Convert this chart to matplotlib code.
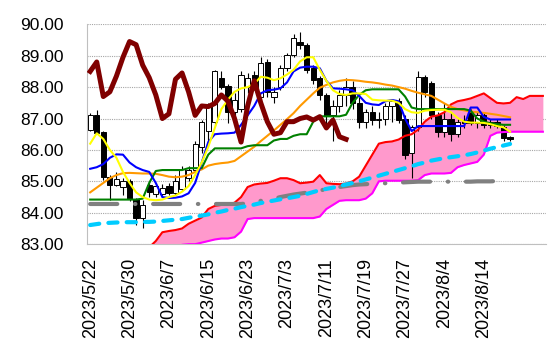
import matplotlib
matplotlib.use("Agg")
import matplotlib.pyplot as plt
import numpy as np

plt.rcParams["font.family"] = ["Liberation Sans", "DejaVu Sans"]

# category axis: 70 weekdays from 2023/5/22, labelled every 6th
n_cat = 70
tick_pos = list(range(0, 61, 6))
tick_labels = ["2023/5/22", "2023/5/30", "2023/6/7", "2023/6/15", "2023/6/23",
               "2023/7/3", "2023/7/11", "2023/7/19", "2023/7/27", "2023/8/4", "2023/8/14"]

# daily candles (index 0..64)
opens = [86.65, 87.11, 86.58, 85.13, 84.88, 84.83, 85.02, 84.43, 83.82, 84.88,
         84.60, 84.60, 84.85, 84.62, 84.75, 85.10, 85.35, 86.10, 86.60, 86.90,
         88.30, 88.04, 87.22, 87.30, 88.00, 88.39, 87.69, 88.81, 87.69, 88.00,
         88.60, 89.02, 89.45, 89.34, 88.60, 88.28, 87.75, 87.11, 87.40, 87.75,
         88.00, 87.50, 86.90, 87.20, 86.95, 87.00, 87.40, 87.55, 87.00, 85.90,
         86.74, 88.33, 88.12, 87.11, 86.58, 87.00, 86.50, 86.95, 87.20, 86.85,
         87.10, 86.80, 86.90, 86.74, 86.40]
highs = [87.17, 87.27, 86.60, 85.20, 85.30, 85.10, 85.07, 84.47, 84.40, 85.00,
         84.95, 84.90, 84.95, 85.20, 85.50, 85.50, 86.30, 86.95, 87.50, 88.55,
         88.50, 88.10, 87.80, 88.50, 88.45, 88.50, 88.97, 88.90, 88.00, 88.70,
         89.10, 89.70, 89.75, 89.40, 88.70, 88.35, 87.80, 87.60, 87.90, 88.30,
         88.20, 87.70, 87.30, 87.40, 87.20, 87.50, 87.60, 87.65, 87.10, 86.80,
         88.50, 88.40, 88.20, 87.20, 87.50, 87.20, 87.00, 87.10, 87.30, 87.20,
         87.20, 87.00, 87.00, 86.80, 86.45]
lows = [86.60, 86.50, 85.04, 84.40, 84.85, 84.56, 84.37, 83.60, 83.51, 84.50,
        84.50, 84.50, 84.55, 84.55, 84.70, 85.00, 85.20, 85.90, 86.30, 86.80,
        87.95, 86.86, 87.00, 87.20, 87.80, 87.90, 87.60, 87.70, 87.50, 87.90,
        88.50, 88.95, 89.20, 88.45, 88.10, 87.60, 86.74, 86.30, 87.20, 87.40,
        87.30, 86.70, 86.70, 86.80, 86.70, 86.80, 86.90, 86.85, 85.70, 85.10,
        86.60, 87.70, 87.00, 86.40, 86.40, 86.30, 86.40, 86.70, 86.80, 86.70,
        86.70, 86.70, 86.70, 86.30, 86.30]
closes = [87.11, 86.55, 85.13, 84.88, 85.07, 85.02, 84.43, 83.82, 84.25, 84.67,
          84.85, 84.80, 84.62, 85.00, 85.40, 85.35, 86.20, 86.90, 87.45, 88.50,
          88.00, 87.22, 87.60, 88.39, 88.30, 88.00, 88.76, 87.85, 87.85, 88.60,
          89.02, 89.55, 89.34, 88.54, 88.23, 87.75, 87.08, 87.40, 87.75, 88.00,
          87.50, 86.90, 87.20, 86.95, 87.00, 87.40, 87.55, 86.95, 85.84, 86.74,
          88.33, 87.85, 87.11, 86.58, 87.00, 86.50, 86.90, 86.85, 86.85, 87.10,
          86.80, 86.90, 86.75, 86.37, 86.35]

# conversion line (blue)
tenkan = [85.40, 85.45, 85.55, 85.75, 85.86, 85.85, 85.60, 85.45, 85.36, 85.30,
          84.95, 84.50, 84.47, 84.48, 84.52, 84.62, 84.95, 85.60, 86.25, 86.50,
          86.52, 86.53, 86.55, 86.80, 87.10, 87.40, 87.80, 87.90, 87.92, 87.96,
          88.15, 88.50, 88.62, 88.65, 88.65, 88.60, 88.20, 87.96, 87.95, 87.93,
          87.90, 87.72, 87.50, 87.45, 87.43, 87.55, 87.59, 87.55, 87.00, 86.60,
          86.76, 86.76, 86.76, 86.76, 86.76, 86.76, 86.76, 86.76, 87.35, 87.35,
          87.05, 86.97, 86.97, 86.97, 86.97]
# base line (green)
kijun = [84.42, 84.42, 84.42, 84.42, 84.42, 84.42, 84.42, 84.42, 84.45, 84.95,
         85.33, 85.36, 85.36, 85.36, 85.36, 85.42, 85.42, 85.42, 85.85, 86.05,
         86.05, 86.05, 86.05, 86.05, 86.12, 86.15, 86.15, 86.15, 86.30, 86.35,
         86.35, 86.45, 86.50, 86.50, 86.90, 87.07, 87.07, 87.07, 87.07, 87.12,
         87.50, 87.75, 87.90, 87.93, 87.93, 87.93, 87.93, 87.93, 87.70, 87.35,
         87.30, 87.30, 87.30, 87.30, 87.30, 87.30, 87.30, 87.30, 87.25, 87.00,
         86.90, 86.85, 86.82, 86.80, 86.80]
# short moving average (yellow)
ma_short = [86.20, 86.53, 86.35, 86.00, 85.75, 85.30, 84.95, 84.65, 84.50, 84.42,
            84.40, 84.42, 84.50, 84.55, 84.67, 84.85, 85.20, 85.60, 86.10, 86.70,
            87.30, 87.60, 87.85, 87.96, 88.00, 88.10, 88.33, 88.30, 88.22, 88.28,
            88.40, 88.55, 88.82, 88.95, 88.95, 88.55, 88.20, 87.90, 87.78, 87.75,
            87.80, 87.80, 87.78, 87.60, 87.58, 87.57, 87.57, 87.50, 87.30, 87.20,
            87.18, 87.25, 87.27, 87.28, 87.28, 87.20, 87.02, 86.90, 86.87, 86.87,
            86.86, 86.82, 86.76, 86.72, 86.58]
# medium moving average (orange)
ma_mid = [84.65, 84.80, 84.95, 85.10, 85.20, 85.26, 85.27, 85.26, 85.25, 85.25,
          85.24, 85.20, 85.15, 85.13, 85.15, 85.20, 85.30, 85.38, 85.50, 85.55,
          85.58, 85.60, 85.65, 85.80, 85.95, 86.10, 86.28, 86.45, 86.62, 86.80,
          86.98, 87.17, 87.40, 87.60, 87.80, 87.98, 88.07, 88.15, 88.20, 88.23,
          88.22, 88.20, 88.17, 88.15, 88.12, 88.08, 88.05, 88.00, 87.95, 87.88,
          87.82, 87.77, 87.72, 87.60, 87.48, 87.37, 87.30, 87.26, 87.22, 87.20,
          87.18, 87.15, 87.12, 87.08, 87.04]
# long moving average (cyan dashed)
ma_long = [83.61, 83.64, 83.67, 83.68, 83.69, 83.70, 83.70, 83.70, 83.71, 83.71,
           83.72, 83.74, 83.76, 83.78, 83.80, 83.84, 83.88, 83.91, 83.95, 84.00,
           84.04, 84.09, 84.13, 84.18, 84.22, 84.26, 84.31, 84.35, 84.39, 84.43,
           84.46, 84.50, 84.54, 84.60, 84.66, 84.72, 84.76, 84.80, 84.85, 84.90,
           84.95, 85.00, 85.06, 85.12, 85.18, 85.24, 85.30, 85.36, 85.42, 85.48,
           85.55, 85.60, 85.66, 85.70, 85.74, 85.77, 85.80, 85.83, 85.87, 85.92,
           85.98, 86.04, 86.09, 86.14, 86.19]
# very long moving average (grey dash-dot)
ma_vlong = [84.28, 84.28, 84.28, 84.28, 84.28, 84.28, 84.28, 84.28, 84.28, 84.28,
            84.28, 84.28, 84.28, 84.28, 84.28, 84.28, 84.28, 84.28, 84.28, 84.28,
            84.28, 84.28, 84.28, 84.28, 84.30, 84.35, 84.38, 84.41, 84.45, 84.50,
            84.54, 84.58, 84.61, 84.64, 84.67, 84.71, 84.75, 84.79, 84.82, 84.85,
            84.88, 84.90, 84.91, 84.92, 84.93, 84.94, 84.95, 84.96, 84.97, 84.98,
            84.99, 84.99, 84.99, 84.99, 84.99, 84.99, 84.99, 84.99, 84.99, 85.00,
            85.00, 85.00, 85.01, 85.01, 85.01]
# lagging span (maroon), index 0..39
chikou = [88.50, 88.80, 87.70, 87.85, 88.35, 88.95, 89.45, 89.35, 88.70, 88.30,
          87.75, 87.00, 87.15, 88.25, 88.45, 87.85, 87.10, 87.40, 87.38, 87.48,
          87.75, 87.55, 87.00, 86.25, 87.40, 88.20, 87.50, 86.90, 86.50, 86.55,
          86.90, 86.90, 87.00, 87.05, 86.95, 87.06, 86.70, 86.95, 86.42, 86.34]
# leading spans, index 9..69
span_start = 9
span_a = [82.90, 83.10, 83.38, 83.42, 83.45, 83.50, 83.65, 83.75, 83.85, 84.12,
          84.22, 84.25, 84.27, 84.32, 84.50, 84.82, 84.90, 84.93, 84.95, 85.02,
          85.10, 85.10, 85.04, 84.94, 84.96, 84.99, 85.20, 84.94, 84.92, 84.91,
          84.93, 85.00, 85.15, 85.50, 85.85, 86.20, 86.25, 86.27, 86.33, 86.45,
          86.50, 86.65, 86.90, 87.06, 87.10, 87.20, 87.45, 87.55, 87.59, 87.64,
          87.72, 87.80, 87.65, 87.50, 87.48, 87.50, 87.68, 87.62, 87.72, 87.72,
          87.72]
span_b = [82.80, 82.80, 82.80, 82.80, 82.90, 82.98, 83.00, 83.00, 83.05, 83.10,
          83.15, 83.18, 83.18, 83.22, 83.40, 83.80, 83.83, 83.83, 83.83, 83.83,
          83.83, 83.83, 83.83, 83.83, 83.83, 83.83, 83.88, 84.12, 84.25, 84.38,
          84.40, 84.40, 84.40, 84.45, 84.62, 85.00, 85.02, 85.02, 85.02, 85.02,
          85.02, 85.04, 85.20, 85.25, 85.25, 85.25, 85.27, 85.45, 85.52, 85.57,
          85.62, 85.85, 86.45, 86.55, 86.57, 86.58, 86.58, 86.58, 86.58, 86.58,
          86.58]

fig = plt.figure(figsize=(5.5, 3.57), dpi=100)
ax = fig.add_axes([0.158, 0.316, 0.835, 0.616])

x = np.arange(len(closes))
xs = np.arange(span_start, span_start + len(span_a))

ax.fill_between(xs, span_a, span_b, color="#FF99CC", lw=0, zorder=1)
ax.plot(xs, span_a, color="#FF0000", lw=1.5, zorder=4)
ax.plot(xs, span_b, color="#FF00FF", lw=1.5, zorder=4)

o = np.array(opens)
c = np.array(closes)
up = c >= o
ax.vlines(x, lows, highs, color="black", lw=0.8, zorder=2)
ax.bar(x, np.abs(c - o), bottom=np.minimum(o, c), width=0.8,
       color=np.where(up, "white", "black"), edgecolor="black", lw=0.7, zorder=3)

ax.plot(x, ma_vlong, color="#808080", lw=3, dash_capstyle="round",
        linestyle=(0, (6.5, 4.25, 0.1, 4.25)), zorder=4)
ax.plot(x, ma_long, color="#00CCFF", lw=3, dash_capstyle="round",
        linestyle=(0, (2.2, 2.2)), zorder=4)
ax.plot(x, ma_mid, color="#FF9900", lw=1.5, zorder=5)
ax.plot(x, kijun, color="#008000", lw=1.5, zorder=5)
ax.plot(x, tenkan, color="#0000FF", lw=1.5, zorder=5)
ax.plot(x, ma_short, color="#FFFF00", lw=1.5, zorder=6)
ax.plot(np.arange(len(chikou)), chikou, color="#800000", lw=3.6, zorder=7)

ax.set_xlim(-0.5, n_cat - 0.5)
ax.set_ylim(83, 90)
ax.set_yticks(np.arange(83, 90.5, 1))
ax.yaxis.set_major_formatter(matplotlib.ticker.FormatStrFormatter("%.2f"))
ax.set_xticks(tick_pos)
ax.set_xticklabels(tick_labels, rotation=90, va="top", ha="center")
ax.tick_params(axis="y", length=0, pad=17, labelsize=12.5)
ax.tick_params(axis="x", length=0, pad=10, labelsize=13)
ax.grid(axis="y", color="#A6A6A6", linestyle=(0, (1, 1)), lw=0.8)
ax.set_axisbelow(True)
for s in ["top", "right"]:
    ax.spines[s].set_visible(False)
for s in ["left", "bottom"]:
    ax.spines[s].set_color("#BFBFBF")

fig.savefig("out.png", dpi=100)
